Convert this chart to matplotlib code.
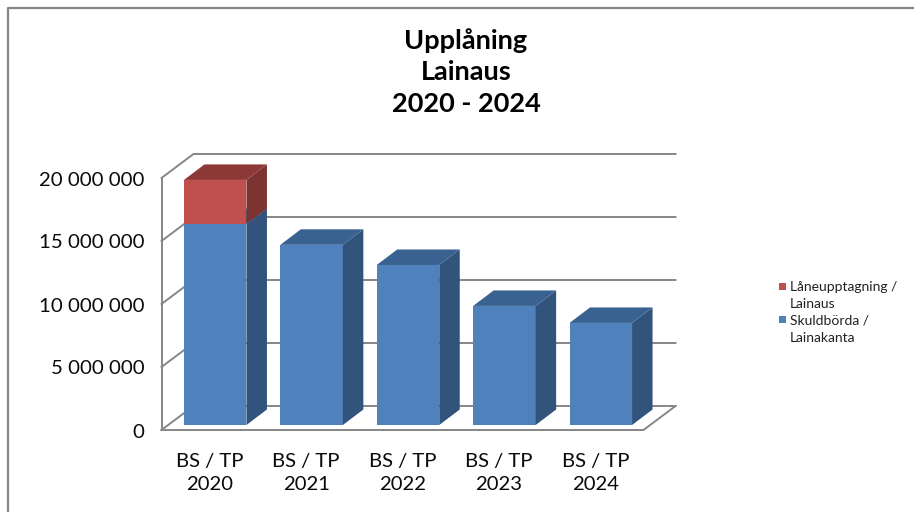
import matplotlib
matplotlib.use('Agg')
import matplotlib.pyplot as plt
from matplotlib.patches import Polygon
from matplotlib.lines import Line2D
import numpy as np

# data
kategorier = ['BS / TP\n2020', 'BS / TP\n2021', 'BS / TP\n2022', 'BS / TP\n2023', 'BS / TP\n2024']
skuldborda = [15950000, 14300000, 12700000, 9450000, 8100000]
laneupptagning = [3500000, 0, 0, 0, 0]
y_ticks = [0, 5000000, 10000000, 15000000, 20000000]
y_labels = ['0', '5 000 000', '10 000 000', '15 000 000', '20 000 000']
rubrik = 'Upplåning\nLainaus\n2020 - 2024'
legend_labels = ['Låneupptagning /\nLainaus', 'Skuldbörda /\nLainakanta']

W, H = 914, 512
FONT = 'Lato'
GRID = '#868686'

fig = plt.figure(figsize=(W / 100, H / 100), dpi=100, facecolor='white')

# ramen runt diagrammet (syns bara uppe och till vänster)
fig.add_artist(Line2D([8 / W, 8 / W, 1], [0, 1 - 8 / H, 1 - 8 / H], color=GRID, lw=1.6))

# axlarna motsvarar diagrammets främre plan
ax = fig.add_axes([161.5 / W, 1 - 430 / H, 482 / W, 252 / H])
ax.set_xlim(-0.5, 4.5)
ax.set_ylim(0, 20000000)
ax.axis('off')

# djupet i 3D-effekten, i dataenheter
px_x = 5 / 482
px_y = 20000000 / 252
vagg_dx, vagg_dy = 32 * px_x, 24 * px_y
bar_dx, bar_dy = 20.5 * px_x, 15.5 * px_y
gap_dx, gap_dy = 5.5 * px_x, 5 * px_y
bredd = 62.5 * px_x

# rutnät och golv
for t in y_ticks:
    ax.plot([-0.5, -0.5 + vagg_dx, 4.5 + vagg_dx], [t, t + vagg_dy, t + vagg_dy],
            color=GRID, lw=1.4, clip_on=False, zorder=1, solid_joinstyle='miter')
ax.plot([-0.5, -0.5], [0, 20000000], color=GRID, lw=1.4, clip_on=False, zorder=1)
ax.plot([-0.5, 4.5, 4.5 + vagg_dx], [0, 0, vagg_dy], color=GRID, lw=1.4, clip_on=False, zorder=1)


def stapel(x, y0, y1, front, top, side):
    # framsida via bar, sida och ovansida som polygoner
    ax.bar(x, y1 - y0, width=bredd, bottom=y0, color=front, clip_on=False, zorder=3)
    h = x + bredd / 2
    v = x - bredd / 2
    ax.add_patch(Polygon([(h, y0), (h + bar_dx, y0 + bar_dy), (h + bar_dx, y1 + bar_dy), (h, y1)],
                         facecolor=side, edgecolor='none', clip_on=False, zorder=3))
    ax.add_patch(Polygon([(v, y1), (v + bar_dx, y1 + bar_dy), (h + bar_dx, y1 + bar_dy), (h, y1)],
                         facecolor=top, edgecolor='none', clip_on=False, zorder=3))


for i in range(len(kategorier)):
    x = i + gap_dx
    stapel(x, gap_dy, skuldborda[i] + gap_dy, '#4F81BD', '#3A6291', '#31537C')
    if laneupptagning[i] > 0:
        stapel(x, skuldborda[i] + gap_dy, skuldborda[i] + laneupptagning[i] + gap_dy,
               '#C0504D', '#8C3836', '#7D3331')

# axeltexter
for t, lab in zip(y_ticks, y_labels):
    ax.annotate(lab, (-0.5, t), xytext=(-17, -2), textcoords='offset pixels', ha='right', va='center',
                fontsize=14.7, family=FONT, color='#0a0a0a', annotation_clip=False)
for i, lab in enumerate(kategorier):
    ax.annotate(lab, (i, 0), xytext=(0, -23), textcoords='offset pixels', ha='center', va='top',
                fontsize=14.6, family=FONT, color='#0a0a0a', linespacing=1.42, annotation_clip=False)

fig.text(466 / W, 1 - 72 / H, rubrik, ha='center', va='center', fontsize=19.5, fontweight='bold',
         family=FONT, color='black', linespacing=1.38)

# legend
leg_y = [(286, 295.5, '#C0504D'), (319, 329.5, '#4F81BD')]
for (y_rek, y_txt, farg), lab in zip(leg_y, legend_labels):
    fig.patches.append(plt.Rectangle((779 / W, 1 - (y_rek + 3.5) / H), 7 / W, 7 / H, facecolor=farg,
                                     edgecolor='none', transform=fig.transFigure))
    fig.text(790 / W, 1 - y_txt / H, lab, ha='left', va='center', fontsize=10, family=FONT,
             color='#222222', linespacing=1.55)

fig.savefig('out.png', dpi=100)
